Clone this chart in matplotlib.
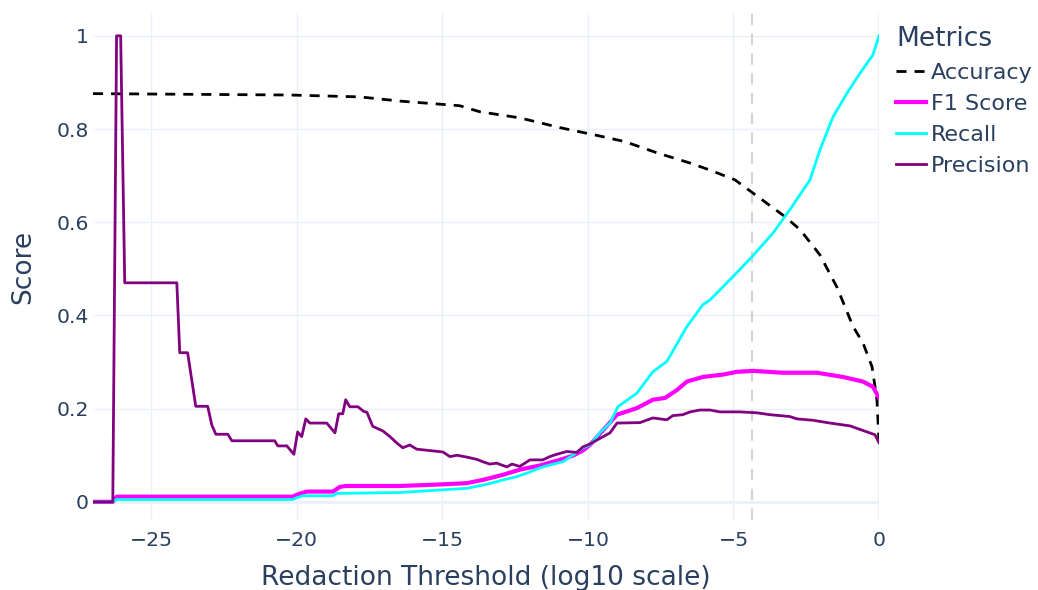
import matplotlib
matplotlib.use("Agg")
import matplotlib.pyplot as plt
from matplotlib.lines import Line2D

# ── Threshold sweep results (x = log10 of the redaction threshold) ───────────
acc_x = [-27.0, -20.24, -17.84, -16.46, -14.40, -13.71, -12.34, -10.96, -9.59,
         -8.73, -7.63, -6.49, -5.81, -4.95, -4.36, -3.23, -2.71, -2.03, -1.44,
         -0.89, -0.55, -0.24, -0.07, 0.0]
accuracy = [0.876, 0.873, 0.869, 0.860, 0.850, 0.837, 0.824, 0.803, 0.785,
            0.773, 0.749, 0.727, 0.712, 0.691, 0.664, 0.612, 0.584, 0.530, 0.460,
            0.376, 0.341, 0.290, 0.219, 0.130]

f1_x = [-27.0, -26.32, -26.19, -20.14, -19.97, -19.66, -18.76, -18.52, -18.32,
        -16.46, -15.19, -14.16, -13.61, -12.92, -12.34, -11.65, -10.86, -10.52,
        -10.17, -9.93, -9.59, -9.00, -8.32, -7.77, -7.35, -6.94, -6.60, -6.05,
        -5.36, -4.88, -4.33, -3.30, -2.13, -1.24, -0.55, -0.21, 0.0]
f1 = [0.0, 0.0, 0.011, 0.011, 0.016, 0.022, 0.022, 0.032, 0.034,
      0.034, 0.037, 0.040, 0.047, 0.058, 0.069, 0.078, 0.092, 0.099,
      0.110, 0.122, 0.146, 0.187, 0.201, 0.219, 0.223, 0.240, 0.258, 0.268,
      0.273, 0.279, 0.281, 0.277, 0.277, 0.268, 0.258, 0.247, 0.223]

rec_x = [-27.0, -26.32, -26.19, -20.14, -20.0, -19.79, -18.76, -18.63, -16.46,
         -15.19, -14.16, -13.61, -13.26, -12.92, -12.44, -11.99, -11.65, -11.31,
         -10.86, -10.52, -10.17, -9.93, -9.59, -9.24, -8.97, -8.32, -7.77, -7.29,
         -6.60, -6.05, -5.81, -5.02, -4.36, -3.64, -3.06, -2.37, -2.03, -1.58,
         -1.10, -0.65, -0.21, 0.0]
recall = [0.0, 0.0, 0.005, 0.005, 0.009, 0.013, 0.013, 0.018, 0.020,
          0.025, 0.029, 0.036, 0.041, 0.047, 0.054, 0.064, 0.073, 0.079,
          0.086, 0.100, 0.116, 0.122, 0.148, 0.169, 0.204, 0.233, 0.279, 0.301,
          0.376, 0.423, 0.433, 0.483, 0.526, 0.577, 0.627, 0.691, 0.755, 0.826,
          0.877, 0.920, 0.959, 1.0]

prec_x = [-27.0, -26.32, -26.19, -26.05, -25.91, -24.12, -24.02, -23.75, -23.47,
          -23.06, -22.92, -22.78, -22.37, -22.23, -20.76, -20.65, -20.34, -20.10,
          -19.97, -19.83, -19.69, -19.55, -18.97, -18.69, -18.56, -18.42, -18.32,
          -18.18, -17.90, -17.70, -17.59, -17.39, -17.04, -16.80, -16.56, -16.36,
          -16.12, -15.88, -15.43, -14.98, -14.74, -14.50, -14.16, -13.81, -13.61,
          -13.37, -13.13, -12.92, -12.78, -12.61, -12.34, -11.99, -11.55, -11.31,
          -11.07, -10.72, -10.38, -10.17, -9.93, -9.59, -9.24, -9.00, -8.21,
          -7.77, -7.29, -7.08, -6.74, -6.49, -6.15, -5.81, -5.46, -4.78, -4.19,
          -3.75, -3.06, -2.82, -2.27, -1.68, -1.00, -0.41, -0.14, 0.0]
precision = [0.0, 0.0, 1.0, 1.0, 0.47, 0.47, 0.32, 0.32, 0.205,
             0.205, 0.165, 0.145, 0.145, 0.131, 0.131, 0.12, 0.12, 0.102,
             0.15, 0.14, 0.178, 0.169, 0.169, 0.148, 0.189, 0.189, 0.219,
             0.204, 0.204, 0.194, 0.192, 0.162, 0.152, 0.140, 0.126, 0.116,
             0.122, 0.113, 0.110, 0.107, 0.097, 0.100, 0.096, 0.091, 0.086,
             0.081, 0.083, 0.078, 0.075, 0.081, 0.076, 0.090, 0.090, 0.097,
             0.102, 0.108, 0.106, 0.118, 0.124, 0.136, 0.148, 0.169, 0.170,
             0.180, 0.176, 0.185, 0.187, 0.193, 0.197, 0.197, 0.193, 0.193, 0.191,
             0.187, 0.183, 0.178, 0.175, 0.169, 0.163, 0.150, 0.144, 0.127]

best_threshold = -4.36

x_ticks = [-25, -20, -15, -10, -5, 0]
y_ticks = [0, 0.2, 0.4, 0.6, 0.8, 1]
y_ticklabels = ["0", "0.2", "0.4", "0.6", "0.8", "1"]

TEXT = "#2a3f5f"
GRID = "#ebf0f8"

plt.rcParams["font.family"] = ["DejaVu Sans"]

fig = plt.figure(figsize=(10.38, 5.90), dpi=100)
ax = fig.add_axes([93 / 1038, 70 / 590, (879 - 93) / 1038, (520 - 13) / 590])

ax.set_xlim(-27.0, 0.0)
ax.set_ylim(-0.039, 1.049)

for s in ax.spines.values():
    s.set_visible(False)

# plotly-white style grid, with a heavier zero line
for xv in x_ticks:
    ax.axvline(xv, color=GRID, lw=2 if xv == 0 else 1, zorder=0)
for yv in y_ticks:
    ax.axhline(yv, color=GRID, lw=2 if yv == 0 else 1, zorder=0)

ax.axvline(best_threshold, color="#d3d3d3", lw=1.5, dashes=(5.5, 4), zorder=1)

ax.plot(acc_x, accuracy, color="black", lw=2, dashes=(3.6, 2.9), zorder=3)
ax.plot(f1_x, f1, color="magenta", lw=3, zorder=3)
ax.plot(rec_x, recall, color="cyan", lw=2, zorder=3)
ax.plot(prec_x, precision, color="purple", lw=2, zorder=4)

ax.set_xticks(x_ticks)
ax.set_xticklabels([f"\u2212{abs(v)}" if v < 0 else str(v) for v in x_ticks])
ax.set_yticks(y_ticks)
ax.set_yticklabels(y_ticklabels)
ax.tick_params(length=0, labelsize=14.7, labelcolor=TEXT)
ax.tick_params(axis="x", pad=8)
ax.tick_params(axis="y", pad=3)

ax.set_xlabel("Redaction Threshold (log10 scale)", fontsize=19, color=TEXT, labelpad=11)
ax.set_ylabel("Score", fontsize=19, color=TEXT, labelpad=14.5)

handles = [
    Line2D([], [], color="black", lw=2, dashes=(3.6, 2.9)),
    Line2D([], [], color="magenta", lw=3),
    Line2D([], [], color="cyan", lw=2),
    Line2D([], [], color="purple", lw=2),
]
leg = fig.legend(handles, ["Accuracy", "F1 Score", "Recall", "Precision"],
                 title="Metrics", loc="upper left",
                 bbox_to_anchor=(896 / 1038, 1 - 26 / 590),
                 frameon=False, fontsize=16, title_fontsize=19,
                 handlelength=1.35, handletextpad=0.22, labelspacing=0.49,
                 borderaxespad=0, borderpad=0)
leg._legend_box.align = "left"
for t in leg.get_texts():
    t.set_color(TEXT)
leg.get_title().set_color(TEXT)

fig.savefig("out.png", dpi=100)
